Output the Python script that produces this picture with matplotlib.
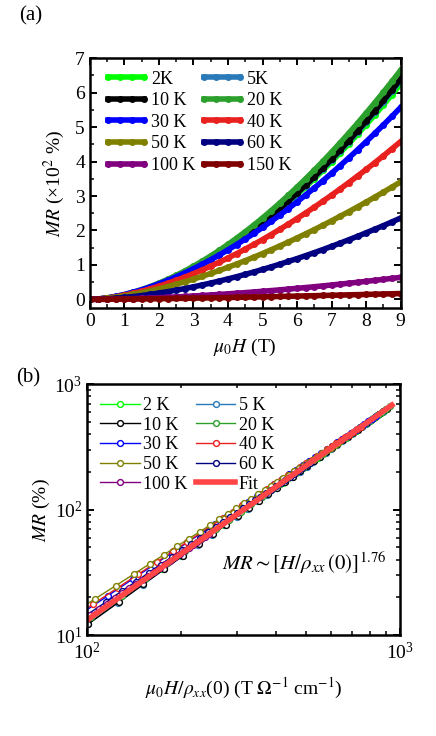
import numpy as np
import matplotlib
matplotlib.use("Agg")
import matplotlib.pyplot as plt
from matplotlib.ticker import MultipleLocator, NullFormatter

plt.rcParams['font.family'] = 'serif'
plt.rcParams['font.serif'] = ['Liberation Serif', 'DejaVu Serif']
plt.rcParams['mathtext.fontset'] = 'stix'

# --- data ---
# field sweep (T)
field = np.linspace(0, 9, 37)

# MR (%), one list per temperature
mr_2k = [0, 1.1, 3.6, 7.5, 12.5, 18.6, 25.8, 33.9, 43.0, 53.0, 63.9, 75.8, 88.4, 102.0, 116.3,
         131.6, 147.6, 164.4, 182.0, 200.4, 219.5, 239.4, 260.1, 281.6, 303.7, 326.6, 350.2,
         374.5, 399.6, 425.4, 451.8, 479.0, 506.8, 535.3, 564.5, 594.4, 625.0]
mr_5k = [0, 1.0, 3.5, 7.3, 12.2, 18.2, 25.3, 33.4, 42.4, 52.5, 63.4, 75.3, 88.0, 101.7, 116.2,
         131.5, 147.8, 164.8, 182.7, 201.3, 220.8, 241.1, 262.1, 283.9, 306.5, 329.9, 354.1,
         378.9, 404.6, 430.9, 458.1, 485.9, 514.5, 543.8, 573.8, 604.5, 636.0]
mr_10k = [0, 1.0, 3.5, 7.3, 12.3, 18.3, 25.4, 33.6, 42.7, 52.8, 63.8, 75.7, 88.6, 102.3, 116.9,
          132.4, 148.7, 165.8, 183.8, 202.6, 222.2, 242.6, 263.7, 285.7, 308.5, 332.0, 356.3,
          381.3, 407.2, 433.7, 461.0, 489.0, 517.7, 547.2, 577.4, 608.3, 640.0]
mr_20k = [0, 1.2, 4.1, 8.4, 13.9, 20.6, 28.4, 37.3, 47.1, 58.0, 69.8, 82.5, 96.2, 110.7, 126.1,
          142.4, 159.6, 177.6, 196.4, 215.9, 236.3, 257.5, 279.5, 302.3, 325.8, 350.1, 375.1,
          400.8, 427.3, 454.6, 482.5, 511.1, 540.5, 570.6, 601.4, 632.8, 665.0]
mr_30k = [0, 1.4, 4.5, 8.8, 14.2, 20.6, 28.0, 36.2, 45.2, 55.0, 65.6, 76.9, 88.9, 101.6, 115.0,
          129.1, 143.8, 159.1, 175.1, 191.6, 208.7, 226.4, 244.7, 263.6, 283.0, 303.0, 323.5,
          344.5, 366.1, 388.2, 410.8, 433.9, 457.5, 481.7, 506.3, 531.4, 557.0]
mr_40k = [0, 1.2, 3.9, 7.6, 12.2, 17.6, 23.8, 30.7, 38.3, 46.5, 55.3, 64.8, 74.8, 85.3, 96.4,
          108.0, 120.2, 132.8, 146.0, 159.6, 173.6, 188.2, 203.2, 218.7, 234.6, 251.0, 267.7,
          284.9, 302.6, 320.6, 339.0, 357.9, 377.1, 396.7, 416.7, 437.2, 458.0]
mr_50k = [0, 1.1, 3.3, 6.4, 10.1, 14.5, 19.4, 24.8, 30.7, 37.1, 43.9, 51.2, 58.8, 66.8, 75.2,
          84.0, 93.2, 102.7, 112.5, 122.6, 133.1, 144.0, 155.1, 166.5, 178.2, 190.3, 202.6,
          215.2, 228.1, 241.3, 254.7, 268.5, 282.4, 296.7, 311.2, 326.0, 341.0]
mr_60k = [0, 0.5, 1.7, 3.5, 5.6, 8.2, 11.2, 14.6, 18.3, 22.4, 26.7, 31.5, 36.5, 41.8, 47.4,
          53.3, 59.5, 65.9, 72.6, 79.6, 86.9, 94.4, 102.2, 110.2, 118.4, 127.0, 135.7,
          144.7, 154.0, 163.4, 173.1, 183.0, 193.2, 203.6, 214.1, 225.0, 236.0]
mr_100k = [0, 0.14, 0.47, 0.94, 1.53, 2.23, 3.04, 3.96, 4.96, 6.06, 7.25, 8.53, 9.89, 11.33,
           12.85, 14.45, 16.13, 17.87, 19.70, 21.59, 23.56, 25.60, 27.70, 29.88, 32.12, 34.44,
           36.81, 39.24, 41.75, 44.32, 46.95, 49.63, 52.38, 55.20, 58.07, 61.01, 64.0]
mr_150k = [0, 0.11, 0.30, 0.52, 0.78, 1.07, 1.38, 1.72, 2.07, 2.44, 2.83, 3.23, 3.65, 4.08,
           4.53, 4.99, 5.46, 5.95, 6.44, 6.95, 7.47, 7.99, 8.53, 9.08, 9.64, 10.20, 10.78,
           11.36, 11.96, 12.56, 13.17, 13.79, 14.42, 15.05, 15.69, 16.34, 17.0]

mr_all = [mr_2k, mr_5k, mr_10k, mr_20k, mr_30k, mr_40k, mr_50k, mr_60k, mr_100k, mr_150k]
labels_a = ['2K', '5K', '10 K', '20 K', '30 K', '40 K', '50 K', '60 K', '100 K', '150 K']
labels_b = ['2 K', '5 K', '10 K', '20 K', '30 K', '40 K', '50 K', '60 K', '100 K']
colors = ['#00ff00', '#2a7ab9', '#000000', '#2ca02c', '#0000ff', '#e8201e',
          '#808000', '#000080', '#800080', '#800000']

# zero-field resistivity (mOhm cm), used for the Kohler plot in (b)
rho0 = [10.06, 9.96, 9.92, 9.71, 10.74, 12.0, 14.19, 17.48, 36.7]

# Kohler fit line, MR ~ [H/rho(0)]^1.76
fit_x = [100, 940]
fit_y = [13.2, 681]


def row_order(handles, labels):
    # matplotlib fills legend columns first; the figure reads row by row
    idx = list(range(0, len(handles), 2)) + list(range(1, len(handles), 2))
    return [handles[i] for i in idx], [labels[i] for i in idx]


# --- figure ---
fig = plt.figure(figsize=(4.36, 7.36), dpi=100)
ax1 = fig.add_axes([0.206, 0.5815, 0.713, 0.3395])
ax2 = fig.add_axes([0.2, 0.137, 0.718, 0.341])

# (a) MR vs field
for mr, lab, c in zip(mr_all, labels_a, colors):
    ax1.plot(field, np.array(mr) / 100, '-o', color=c, lw=4, ms=4, label=lab)

ax1.set_xlim(0, 9)
ax1.set_ylim(-0.25, 7)
ax1.xaxis.set_major_locator(MultipleLocator(1))
ax1.xaxis.set_minor_locator(MultipleLocator(0.5))
ax1.yaxis.set_major_locator(MultipleLocator(1))
ax1.yaxis.set_minor_locator(MultipleLocator(0.5))
ax1.set_xlabel(r'$\mu_0H$ (T)', fontsize=14, labelpad=5)
ax1.set_ylabel(r'$MR$ (×10$^2$ %)', fontsize=14, labelpad=6)
h, l = row_order(*ax1.get_legend_handles_labels())
ax1.legend(h, l, ncol=2, loc='upper left', frameon=False, fontsize=13, handlelength=2.6,
           handletextpad=0.1, columnspacing=0.15, labelspacing=0.25, numpoints=4,
           borderaxespad=0.3)

# (b) Kohler plot
for mr, lab, c, r0 in zip(mr_all[:9], labels_b, colors[:9], rho0):
    x = field[1:] / (r0 * 1e-3)
    ax2.plot(x, mr[1:], '-o', color=c, lw=1.0, ms=4.2, mfc='white', mew=1.0, label=lab)
ax2.plot(fit_x, fit_y, '-', color='#ff4545', lw=4, label='Fit')

ax2.set_xscale('log')
ax2.set_yscale('log')
ax2.set_xlim(100, 1000)
ax2.set_ylim(10, 1000)
ax2.xaxis.set_minor_formatter(NullFormatter())
ax2.yaxis.set_minor_formatter(NullFormatter())
ax2.set_xlabel(r'$\mu_0H/\rho_{xx}$(0) (T $\Omega^{-1}$ cm$^{-1}$)', fontsize=14, labelpad=9)
ax2.set_ylabel(r'$MR$ (%)', fontsize=14, labelpad=2)
h, l = row_order(*ax2.get_legend_handles_labels())
ax2.legend(h, l, ncol=2, loc='upper left', frameon=False, fontsize=13, handlelength=2.2,
           handletextpad=0.2, columnspacing=0.45, labelspacing=0.15, numpoints=1,
           borderaxespad=0.3)
ax2.text(0.955, 0.29, r'$MR\sim[H/\rho_{xx}\,(0)]^{1.76}$', transform=ax2.transAxes,
         ha='right', va='center', fontsize=15)

for ax in (ax1, ax2):
    ax.tick_params(which='both', direction='in', top=True, right=True, labelsize=14)
    ax.tick_params(which='major', length=5, width=1.4)
    ax.tick_params(which='minor', length=3, width=1.1)
    for s in ax.spines.values():
        s.set_linewidth(1.8)
ax2.tick_params(axis='x', which='major', pad=5)

fig.text(0.07, 0.978, '(a)', fontsize=15, ha='center', va='center')
fig.text(0.065, 0.487, '(b)', fontsize=15, ha='center', va='center')

fig.savefig('out.png', dpi=100)
